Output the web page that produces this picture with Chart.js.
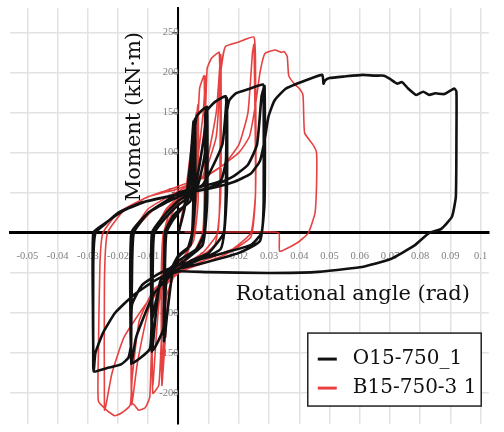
<!DOCTYPE html>
<html>
<head>
<meta charset="utf-8">
<script src="https://cdn.jsdelivr.net/npm/chart.js@4.4.0/dist/chart.umd.min.js"></script>
<style>
  html, body { margin: 0; padding: 0; background: #fff; }
  canvas { display: block; }
</style>
</head>
<body>
<canvas id="hysteresis" width="504" height="432"></canvas>
<script>
var seriesNames = ['O15-750_1', 'B15-750-3 1'];
var xTicks = [-0.05, -0.04, -0.03, -0.02, -0.01, 0, 0.01, 0.02, 0.03, 0.04, 0.05, 0.06, 0.07, 0.08, 0.09, 0.1];
var yTicks = [-200, -150, -100, -50, 0, 50, 100, 150, 200, 250];
var xTitle = 'Rotational angle (rad)';
var yTitle = 'Moment (kN\u00b7m)';

// rotation (rad), moment (kN·m)
var o15Points = [
  [0,0],[0.002,30],[0.004,90],[0.005,139],[0.005,60],[0.0045,0],[0.003,-20],[0,-30],[-0.002,-50],[-0.004,-110],
  [-0.0045,-130],[-0.0045,-50],[-0.004,0],[-0.002,15],[0,25],[0.003,40],[0.005,130],[0.0055,142],[0.0055,40],
  [0.004,-15],[0,-28],[-0.004,-60],[-0.0048,-135],[-0.0045,0],
  [-0.002,20],[0,28],[0.004,40],[0.005,110],[0.006,145],[0.009,156],[0.009,60],[0.0085,0],[0.006,-20],[0,-35],
  [-0.004,-50],[-0.005,-120],[-0.0085,-146],[-0.0085,-40],[-0.008,0],[-0.004,20],[0,35],[0.005,50],[0.0085,120],
  [0.0095,157],[0.0095,40],[0.008,-15],[0,-40],[-0.006,-60],[-0.0085,-140],[-0.0088,-148],[-0.0088,0],
  [-0.004,25],[0,40],[0.006,55],[0.0088,100],[0.009,150],[0.012,163],[0.0157,170],[0.0157,60],[0.015,0],
  [0.01,-25],[0.004,-35],[0,-45],[-0.006,-65],[-0.0088,-110],[-0.0095,-145],[-0.0154,-162],[-0.0154,-60],
  [-0.0148,0],[-0.01,25],[-0.004,38],[0,45],[0.008,60],[0.0145,110],[0.016,168],[0.016,50],[0.014,-20],[0,-45],
  [-0.008,-75],[-0.014,-130],[-0.0156,-163],[-0.0156,0],
  [-0.01,25],[-0.004,40],[0,50],[0.008,58],[0.014,65],[0.0157,90],[0.016,150],[0.0168,165],[0.019,174],
  [0.023,179],[0.028,185],[0.0282,170],[0.0282,40],[0.0275,0],[0.024,-15],[0.015,-25],[0.005,-35],[0,-40],
  [-0.006,-50],[-0.012,-65],[-0.0154,-90],[-0.0157,-140],[-0.0166,-156],[-0.019,-164],[-0.023,-168],
  [-0.028,-173],[-0.0282,-160],[-0.0282,-40],[-0.0275,0],[-0.024,12],[-0.02,25],[-0.012,38],[0,48],[0.01,56],
  [0.018,70],[0.023,85],[0.026,110],[0.0275,170],[0.0285,183],[0.0285,40],[0.027,-10],[0.02,-25],[0.008,-38],
  [0,-45],[-0.008,-60],[-0.015,-78],[-0.021,-100],[-0.025,-125],[-0.0275,-150],[-0.028,-170],[-0.0283,-100],
  [-0.0282,0],
  [-0.025,10],[-0.018,28],[-0.01,40],[0,48],[0.01,55],[0.018,63],[0.024,74],[0.027,90],[0.0285,115],
  [0.0298,145],[0.0318,165],[0.0356,180],[0.042,190],[0.0476,197],[0.048,186],[0.0485,190],[0.05,193],
  [0.055,195],[0.061,197],[0.065,196],[0.068,196],[0.07,192],[0.0715,188],[0.0724,186],[0.074,188],
  [0.076,180],[0.0787,172],[0.081,176],[0.083,172],[0.085,174],[0.088,173],[0.0913,180],[0.092,176],
  [0.092,120],[0.0918,45],[0.0905,20],[0.087,5],[0.083,0],[0.078,-16],[0.07,-33],[0.06,-43],[0.045,-49],
  [0.03,-50],[0.01,-49],[0,-48],[-0.003,-52]
];

var b15Points = [
  [0,0],[0.002,40],[0.004,100],[0.006,150],[0.006,50],[0.005,0],[0.003,-25],[0,-40],[-0.003,-70],[-0.0045,-140],
  [-0.0055,-190],[-0.0055,-60],[-0.0048,0],[-0.003,25],[0,38],[0.003,55],[0.005,110],[0.0065,160],[0.0065,40],
  [0.005,-10],[0,-40],[-0.004,-80],[-0.0055,-185],[-0.0057,-60],[-0.005,0],
  [-0.002,25],[0,38],[0.004,55],[0.0062,120],[0.007,180],[0.0085,196],[0.0086,60],[0.008,0],[0.005,-25],
  [0,-42],[-0.004,-60],[-0.0056,-130],[-0.0065,-190],[-0.0085,-200],[-0.0087,-60],[-0.008,0],[-0.004,28],
  [0,42],[0.005,60],[0.0082,150],[0.009,195],[0.009,50],[0.008,-10],[0,-45],[-0.006,-75],[-0.0085,-190],
  [-0.0088,-50],[-0.008,0],
  [-0.004,30],[0,45],[0.006,65],[0.0088,140],[0.0095,205],[0.011,218],[0.0135,225],[0.0137,60],[0.013,0],
  [0.008,-25],[0,-45],[-0.006,-70],[-0.0088,-140],[-0.0095,-205],[-0.011,-218],[-0.0132,-221],[-0.0145,-215],
  [-0.0154,-212],[-0.0156,-60],[-0.015,0],[-0.008,30],[0,48],[0.008,70],[0.0125,150],[0.014,222],[0.014,50],
  [0.012,-15],[0,-50],[-0.009,-85],[-0.0135,-160],[-0.0155,-214],[-0.0157,-50],[-0.015,0],
  [-0.01,30],[0,52],[0.008,70],[0.0125,120],[0.014,200],[0.0155,232],[0.02,238],[0.025,244],[0.0255,200],
  [0.0255,50],[0.024,0],[0.018,-20],[0.008,-35],[0,-50],[-0.008,-70],[-0.013,-110],[-0.0153,-180],
  [-0.016,-215],[-0.019,-225],[-0.0211,-228],[-0.0235,-222],[-0.0265,-210],[-0.0265,-150],[-0.026,-40],
  [-0.025,0],[-0.02,25],[-0.01,45],[0,55],[0.008,68],[0.015,85],[0.02,110],[0.023,150],[0.0245,225],
  [0.025,235],[0.0255,50],[0.024,-5],[0.015,-28],[0,-50],[-0.01,-85],[-0.018,-130],[-0.022,-175],
  [-0.024,-215],[-0.0245,-221],[-0.0245,-60],[-0.0235,0],
  [-0.018,28],[-0.01,45],[0,58],[0.008,70],[0.013,80],[0.02,100],[0.0235,120],[0.0255,160],[0.027,200],
  [0.0285,223],[0.03,226],[0.032,228],[0.034,225],[0.035,226],[0.036,220],[0.0365,196],[0.0385,185],
  [0.04,180],[0.0412,172],[0.0415,140],[0.0418,124],[0.0445,110],[0.0457,100],[0.0457,60],[0.0452,25],
  [0.043,0],[0.0395,-12],[0.0335,-23],[0.0332,0],[0.025,1],[0.01,1],[0.002,1]
];

function toXY(points){
    return points.map(p => ({x: p[0], y: p[1]}));
}

// axis titles and the boxed legend sit inside the plot, like the original
var overlayPlugin = {
    id: 'overlay',
    afterDraw: function(chart){
        var ctx = chart.ctx;
        var xs = chart.scales.x, ys = chart.scales.y;
        ctx.save();
        ctx.fillStyle = '#111';
        ctx.font = '21px "DejaVu Serif", serif';
        ctx.textAlign = 'center';
        ctx.textBaseline = 'middle';
        ctx.fillText(xTitle, xs.getPixelForValue(0.0577), ys.getPixelForValue(-77));
        ctx.translate(xs.getPixelForValue(-0.0145), ys.getPixelForValue(145));
        ctx.rotate(-Math.PI / 2);
        ctx.fillText(yTitle, 0, 0);
        ctx.restore();

        var left = xs.getPixelForValue(0.0428), right = xs.getPixelForValue(0.1002);
        var top = ys.getPixelForValue(-125), bottom = ys.getPixelForValue(-216);
        ctx.save();
        ctx.fillStyle = '#fff';
        ctx.fillRect(left, top, right - left, bottom - top);
        ctx.strokeStyle = '#222';
        ctx.lineWidth = 1.5;
        ctx.strokeRect(left, top, right - left, bottom - top);
        ctx.font = '20px "DejaVu Serif", serif';
        ctx.textAlign = 'left';
        ctx.textBaseline = 'middle';
        chart.data.datasets.forEach((ds, i) => {
            var y = top + 26 + i * 29;
            ctx.strokeStyle = ds.borderColor;
            ctx.lineWidth = 3;
            ctx.beginPath();
            ctx.moveTo(left + 10, y);
            ctx.lineTo(left + 29, y);
            ctx.stroke();
            ctx.fillStyle = '#111';
            ctx.fillText(ds.label, left + 45, y);
        });
        ctx.restore();
    }
};

var config = {
    type: 'scatter',
    data: {
        datasets: [
            {
                label: seriesNames[0],
                data: toXY(o15Points),
                showLine: true,
                borderColor: '#111111',
                borderWidth: 2.6,
                pointRadius: 0,
                tension: 0.15
            },
            {
                label: seriesNames[1],
                data: toXY(b15Points),
                showLine: true,
                borderColor: 'rgba(228,45,45,0.9)',
                borderWidth: 1.6,
                pointRadius: 0,
                tension: 0.15
            }
        ]
    },
    options: {
        responsive: false,
        animation: false,
        devicePixelRatio: 1,
        layout: { padding: 0 },
        plugins: {
            legend: { display: false },
            tooltip: { enabled: false }
        },
        scales: {
            x: {
                type: 'linear',
                min: -0.0557,
                max: 0.1027,
                position: { y: 0 },
                afterFit: function(s){ s.height = 0; },
                afterBuildTicks: function(s){ s.ticks = xTicks.map(v => ({value: v})); },
                grid: { color: '#e2e2e2', lineWidth: 1.5, drawTicks: false },
                border: { color: '#000', width: 3 },
                ticks: {
                    color: '#808080',
                    font: { family: '"Liberation Serif", serif', size: 10.5 },
                    padding: 17,
                    maxRotation: 0,
                    autoSkip: false,
                    callback: function(v){ return v === 0 ? '' : String(Number(v.toFixed(2))); }
                }
            },
            y: {
                type: 'linear',
                min: -238,
                max: 280,
                position: { x: 0 },
                afterFit: function(s){ s.width = 0; },
                afterBuildTicks: function(s){ s.ticks = yTicks.map(v => ({value: v})); },
                grid: { color: '#e2e2e2', lineWidth: 1.5, tickLength: 5, tickColor: '#333', tickWidth: 1.2 },
                border: { color: '#000', width: 2 },
                ticks: {
                    color: '#808080',
                    font: { family: '"Liberation Serif", serif', size: 10.5 },
                    padding: 2,
                    autoSkip: false,
                    callback: function(v){ return v === 0 ? '' : String(v); }
                }
            }
        }
    },
    plugins: [overlayPlugin]
};

var ctx = document.getElementById('hysteresis').getContext('2d');
var hysteresisChart = new Chart(ctx, config);
</script>
</body>
</html>
